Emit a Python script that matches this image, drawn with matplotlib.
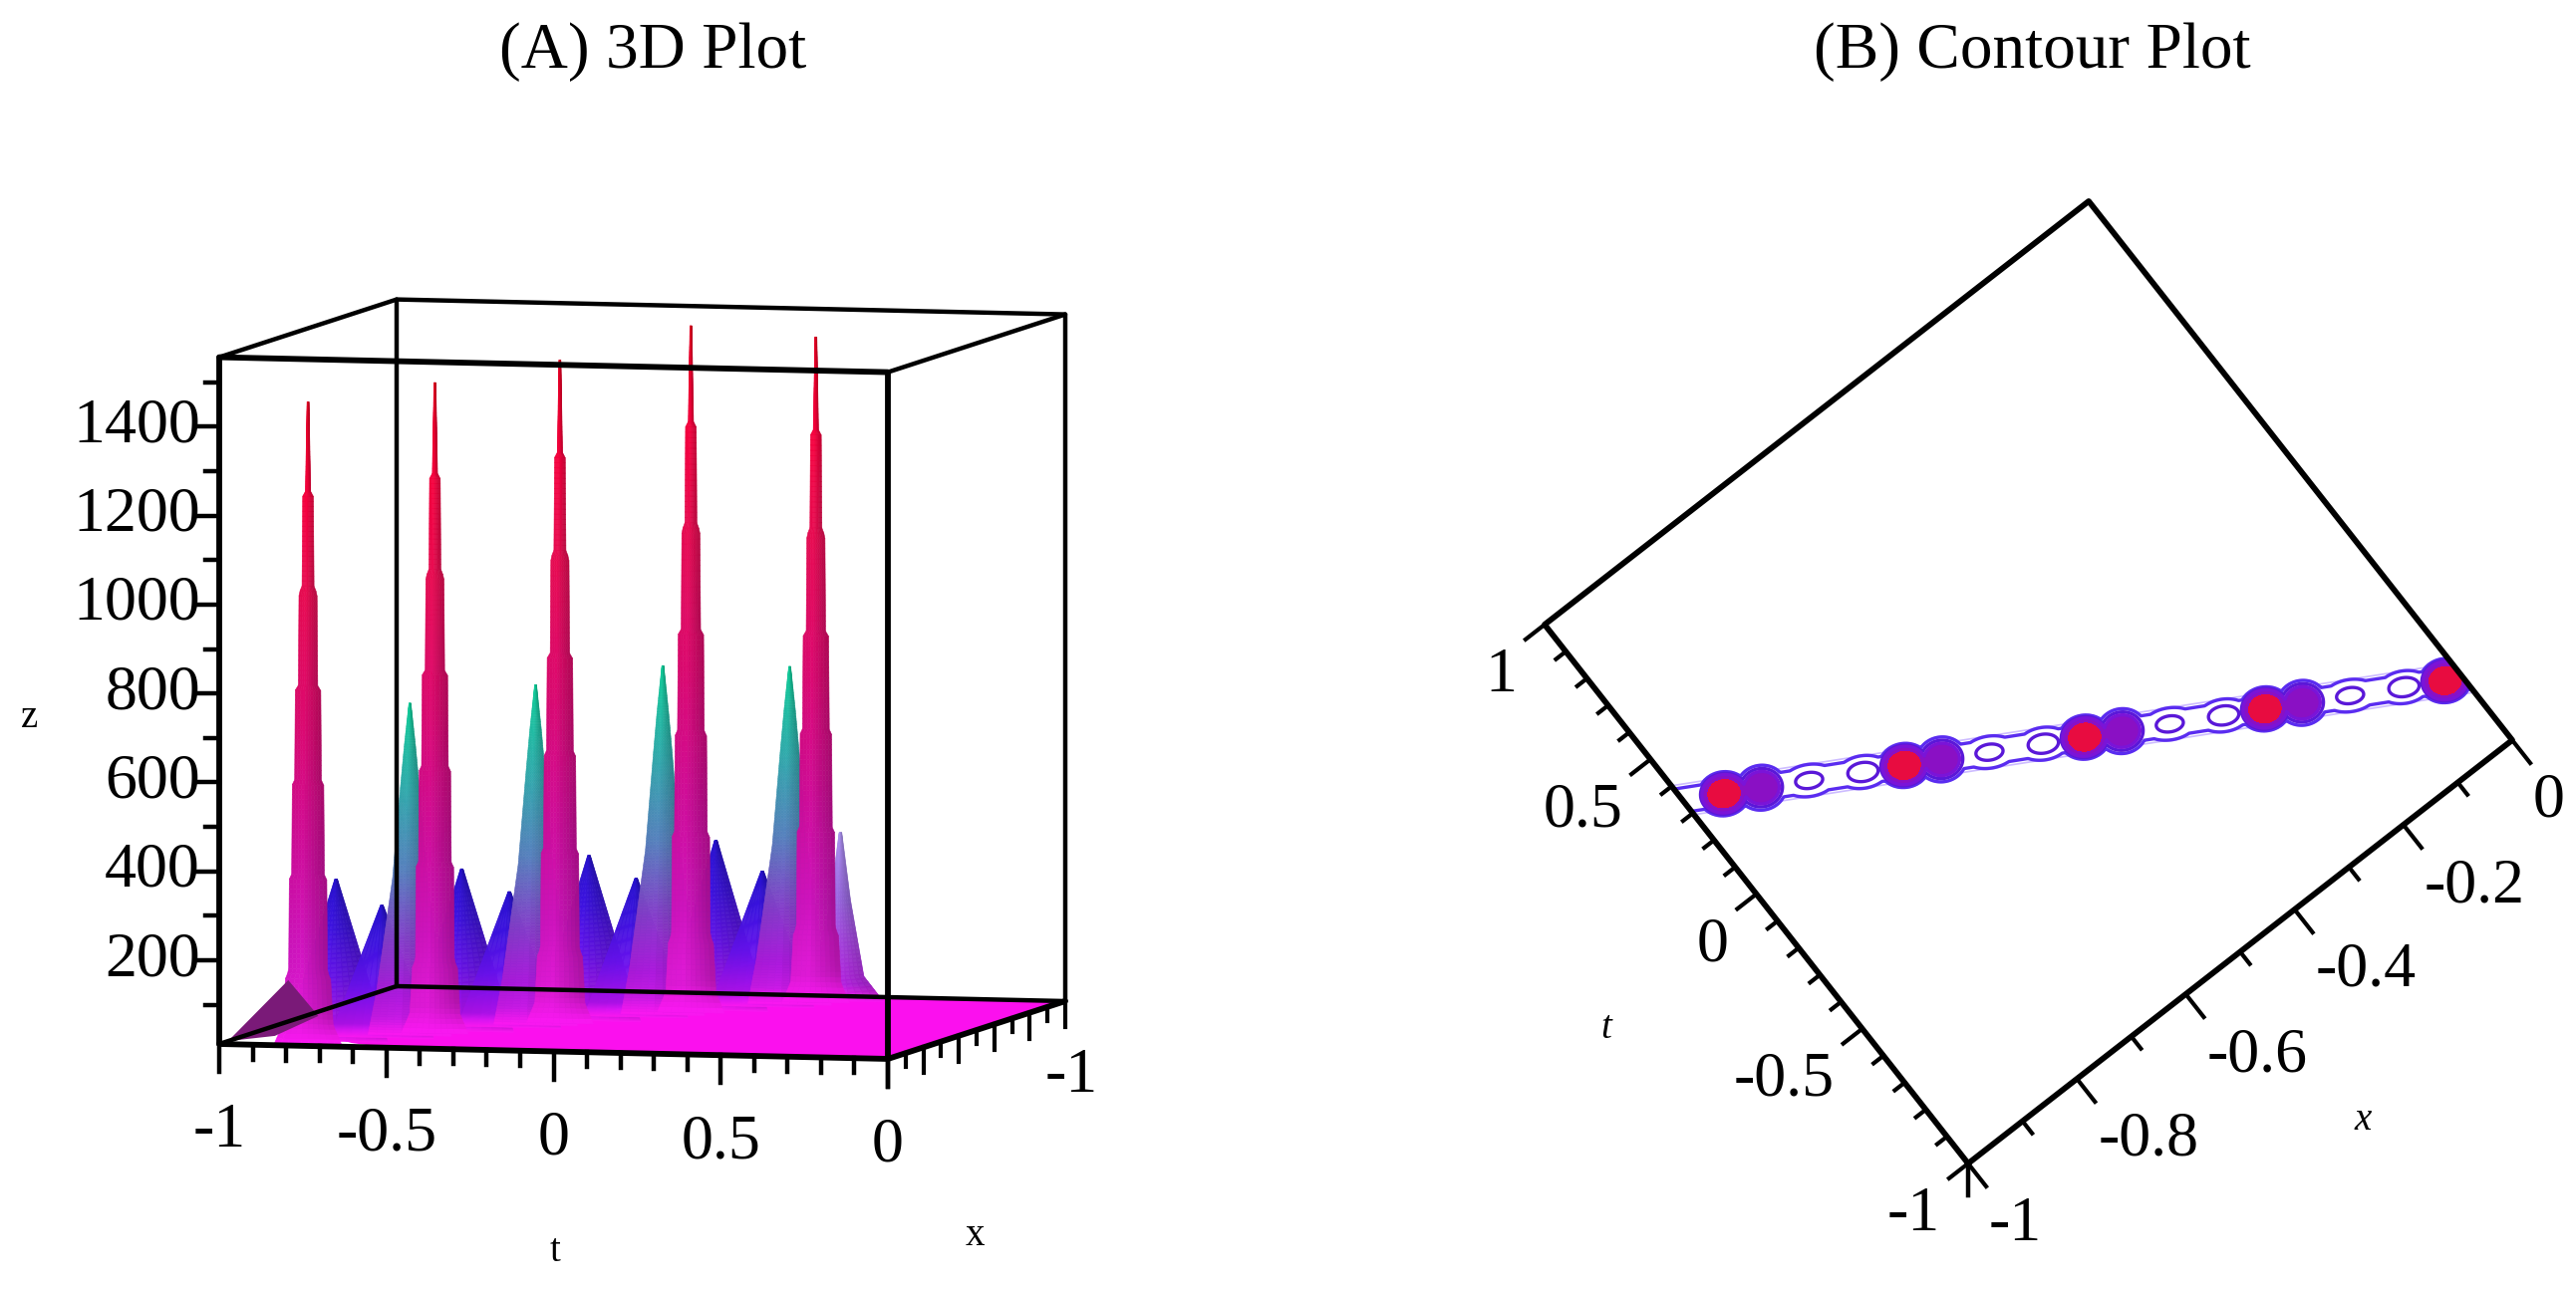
import numpy as np
import matplotlib
matplotlib.use("Agg")
import matplotlib.pyplot as plt
from matplotlib.collections import PolyCollection
from matplotlib.colors import LinearSegmentedColormap
from matplotlib.transforms import Affine2D

plt.rcParams['font.family'] = ['Liberation Serif', 'DejaVu Serif']

# ---- values: peak positions (t, x) and heights ----
red_t = [-0.754, -0.4875, -0.225, 0.05, 0.3125]
red_x = [-0.037, -0.25, -0.46, -0.68, -0.89]
red_z = [1455, 1475, 1503, 1556, 1508]

teal_t = [-0.54, -0.276, -0.009, 0.2575]
teal_x = [-0.208, -0.419, -0.633, -0.846]
teal_z = [759, 777, 797, 772]

blue_t = [-0.695, -0.599, -0.431, -0.331, -0.164, -0.065, 0.1025, 0.2]
blue_x = [-0.084, -0.161, -0.295, -0.375, -0.509, -0.588, -0.722, -0.8]
blue_z = [377, 310, 377, 317, 384, 324, 395, 317]

pale_t = [0.37]
pale_x = [-0.92]
pale_z = [391]

# silhouettes: height fraction -> half width in t
red_frac = [0, 0.03, 0.106, 0.11, 0.259, 0.263, 0.405, 0.41, 0.554, 0.558, 0.704, 0.708, 0.853, 0.857, 1]
red_half = [0.10, 0.075, 0.067, 0.058, 0.056, 0.049, 0.047, 0.040, 0.038, 0.029, 0.027, 0.018, 0.016, 0.008, 0.003]
teal_frac = [0, 0.13, 0.47, 0.75, 0.87, 1]
teal_half = [0.125, 0.10, 0.052, 0.028, 0.017, 0.003]
blue_frac = [0, 1]
blue_half = [0.155, 0.004]
pale_frac = [0, 0.15, 0.6, 1]
pale_half = [0.13, 0.07, 0.03, 0.004]

# colours against height fraction
red_stops = [(0, '#f818f0'), (0.04, '#d018c8'), (0.15, '#c012b0'), (0.3, '#c00c90'),
             (0.5, '#cc0868'), (0.7, '#d80a4c'), (0.85, '#e6003a'), (1, '#d80022')]
teal_stops = [(0, '#f818f0'), (0.05, '#b818d4'), (0.12, '#a018cc'), (0.28, '#7c38bc'),
              (0.5, '#5078b0'), (0.75, '#2ca0a0'), (1, '#10c090')]
blue_stops = [(0, '#f818f0'), (0.1, '#a010d8'), (0.4, '#6010dc'), (0.7, '#3810d0'), (1, '#2410c0')]
pale_stops = [(0, '#f818f0'), (0.1, '#b020dc'), (0.6, '#9060d4'), (1, '#a088e0')]
floor_color = '#fb10ee'

# floor outline and dark flank at the first peak
floor_t = [-1, 1, 1, -0.5, -0.638, -0.824, -0.9]
floor_x = [-1, -1, 0, 0, -0.064, -0.212, -0.35]
flank_t = [-1, -0.82, -0.73, -0.86]
flank_x = [-0.05, -0.05, -0.05, -0.05]
flank_z = [12, 152, 73, 26]

# axes A
t_major = [-1, -0.5, 0, 0.5, 1]
t_labels = ['-1', '-0.5', '0', '0.5', '0']
t_minor = [-0.9, -0.8, -0.7, -0.6, -0.4, -0.3, -0.2, -0.1, 0.1, 0.2, 0.3, 0.4, 0.6, 0.7, 0.8, 0.9]
x_major = [-0.2, -0.4, -0.6, -0.8, -1]
x_minor = [-0.1, -0.3, -0.5, -0.7, -0.9]
z_major = [200, 400, 600, 800, 1000, 1200, 1400]
z_minor = [100, 300, 500, 700, 900, 1100, 1300, 1500]
z_low, z_high = 12, 1556

# ---- values: blob centres in (x, t) ----
c_red_x = [-0.947, -0.716, -0.485, -0.254, -0.023]
c_red_t = [0.289, 0.031, -0.227, -0.485, -0.743]
c_purple_x = [-0.899, -0.668, -0.437, -0.206]
c_purple_t = [0.236, -0.022, -0.280, -0.538]
c_p_x = [-0.838, -0.607, -0.376, -0.145]
c_p_t = [0.167, -0.091, -0.349, -0.607]
c_o_x = [-0.769, -0.538, -0.307, -0.076]
c_o_t = [0.090, -0.168, -0.426, -0.684]
blob_r = [0, 0.3, 0.54, 0.75, 0.85, 1, 1.1]
blob_f = [1, 0.87, 0.69, 0.47, 0.31, 0.07, 0]

b_t_major = [-1, -0.5, 0, 0.5, 1]
b_t_labels = ['-1', '-0.5', '0', '0.5', '1']
b_x_major = [-1, -0.8, -0.6, -0.4, -0.2, 0]
b_x_labels = ['-1', '-0.8', '-0.6', '-0.4', '-0.2', '0']
b_t_minor = [-0.9, -0.8, -0.7, -0.6, -0.4, -0.3, -0.2, -0.1, 0.1, 0.2, 0.3, 0.4, 0.6, 0.7, 0.8, 0.9]
b_x_minor = [-0.9, -0.7, -0.5, -0.3, -0.1]

TICK_FONT = 46


def project(t, x, z):
    # oblique view of the box used in panel A
    u = np.asarray(t, dtype=float) + 1
    d = -np.asarray(x, dtype=float)
    px = 220 + 335.5 * u + 178 * d
    py = 1048 + 7.5 * u - 58 * d - 0.4465 * (np.asarray(z, dtype=float) - z_low)
    return px, py


def box_line(ax, p0, p1, lw):
    xs, ys = project([p0[0], p1[0]], [p0[1], p1[1]], [p0[2], p1[2]])
    ax.plot(xs, ys, color='black', lw=lw, solid_capstyle='round', zorder=20)


def draw_peak(ax, t0, x0, top, frac, half, stops, zorder):
    cmap = LinearSegmentedColormap.from_list('peak', stops)
    levels = np.linspace(0, 1, 130)
    widths = np.interp(levels, frac, half)
    cols = np.linspace(-1, 1, 11)
    shade = np.interp(cols, [-1, -0.4, 0.2, 1], [1.05, 1.08, 0.97, 0.82])
    polys, colors = [], []
    for i in range(len(levels) - 1):
        base = np.array(cmap((levels[i] + levels[i + 1]) / 2))[:3]
        for j in range(len(cols) - 1):
            ts = t0 + np.array([cols[j] * widths[i], cols[j + 1] * widths[i],
                                cols[j + 1] * widths[i + 1], cols[j] * widths[i + 1]])
            zs = z_low + (top - z_low) * np.array([levels[i], levels[i], levels[i + 1], levels[i + 1]])
            px, py = project(ts, x0, zs)
            polys.append(np.column_stack([px, py]))
            # the base melts into the floor, so it is not shaded
            k = shade[j] + (1 - shade[j]) * max(0, 1 - levels[i] / 0.05)
            colors.append(np.clip(base * k, 0, 1))
    ax.add_collection(PolyCollection(polys, facecolors=colors, edgecolors=colors,
                                     linewidths=0.4, zorder=zorder))


def draw_panel_a(ax):
    fx, fy = project(floor_t, floor_x, np.full(len(floor_t), z_low))
    ax.fill(fx, fy, color=floor_color, lw=0, zorder=1)

    for t0, x0, top in zip(pale_t, pale_x, pale_z):
        draw_peak(ax, t0, x0, top, pale_frac, pale_half, pale_stops, 2)
    for t0, x0, top in zip(blue_t, blue_x, blue_z):
        draw_peak(ax, t0, x0, top, blue_frac, blue_half, blue_stops, 3)
    for t0, x0, top in zip(teal_t, teal_x, teal_z):
        draw_peak(ax, t0, x0, top, teal_frac, teal_half, teal_stops, 4)
    for t0, x0, top in zip(red_t, red_x, red_z):
        draw_peak(ax, t0, x0, top, red_frac, red_half, red_stops, 5)

    fx, fy = project(flank_t, flank_x, flank_z)
    ax.fill(fx, fy, color='#7a1a78', lw=0, zorder=6)

    # box, back edges thinner than the front ones
    lo, hi = z_low, z_high
    for p0, p1 in [((-1, -1, lo), (1, -1, lo)), ((-1, -1, lo), (-1, -1, hi)), ((-1, -1, hi), (1, -1, hi)),
                   ((1, -1, lo), (1, -1, hi)), ((-1, 0, hi), (-1, -1, hi)), ((1, 0, hi), (1, -1, hi)),
                   ((-1, 0, lo), (-1, -1, lo))]:
        box_line(ax, p0, p1, 3.2)
    for p0, p1 in [((-1, 0, lo), (1, 0, lo)), ((-1, 0, hi), (1, 0, hi)), ((-1, 0, lo), (-1, 0, hi)),
                   ((1, 0, lo), (1, 0, hi)), ((1, 0, lo), (1, -1, lo))]:
        box_line(ax, p0, p1, 4.2)

    # ticks
    for t0, label in zip(t_major, t_labels):
        px, py = project(t0, 0, lo)
        ax.plot([px, px], [py, py + 28], color='black', lw=3.2, zorder=20)
        ax.text(px, py + 88, label, ha='center', va='center', fontsize=TICK_FONT)
    for t0 in t_minor:
        px, py = project(t0, 0, lo)
        ax.plot([px, px], [py, py + 15], color='black', lw=3.2, zorder=20)
    for x0 in x_major:
        px, py = project(1, x0, lo)
        ax.plot([px, px], [py, py + 26], color='black', lw=3, zorder=20)
    for x0 in x_minor:
        px, py = project(1, x0, lo)
        ax.plot([px, px], [py, py + 14], color='black', lw=3, zorder=20)
    px, py = project(1, 0, lo)
    ax.plot([px, px], [py, py + 28], color='black', lw=3.2, zorder=20)
    px, py = project(1, -1, lo)
    ax.text(px + 6, py + 76, '-1', ha='center', va='center', fontsize=TICK_FONT)
    for z0 in z_major:
        px, py = project(-1, 0, z0)
        ax.plot([px - 24, px], [py, py], color='black', lw=3.2, zorder=20)
        ax.text(px - 19, py, str(z0), ha='right', va='center', fontsize=TICK_FONT)
    for z0 in z_minor:
        px, py = project(-1, 0, z0)
        ax.plot([px - 14, px], [py, py], color='black', lw=3.2, zorder=20)

    ax.text(30, 720, 'z', ha='center', va='center', fontsize=28)
    ax.text(557, 1257, 't', ha='center', va='center', fontsize=28)
    ax.text(978, 1240, 'x', ha='center', va='center', fontsize=28)
    ax.text(655, 52, '(A) 3D Plot', ha='center', va='center', fontsize=47)


def blob_field(X, T, cx, ct, height, radius, stretch, slope):
    # X, T/2 are box fractions, the blobs stretch along the band
    norm = np.hypot(1, slope)
    field = np.zeros_like(X)
    for x0, t0 in zip(cx, ct):
        dx, dt = X - x0, (T - t0) / 2
        along = (dx + slope * dt) / norm
        across = (dt - slope * dx) / norm
        r = np.hypot(along / stretch, across) / radius
        field = np.maximum(field, height * np.interp(r, blob_r, blob_f))
    return field


def draw_panel_b(ax):
    # (x, t) -> figure pixels
    xt = Affine2D.from_values(546, -425, -212.5, -270.5, 1975 + 546 - 212.5, 1168 - 425 - 270.5)
    trans = xt + ax.transData

    xs = np.linspace(-1, 0, 1400)
    ts = np.linspace(-1, 1, 1400)
    X, T = np.meshgrid(xs, ts)
    slope = (c_red_t[-1] - c_red_t[0]) / (c_red_x[-1] - c_red_x[0]) / 2
    Z = blob_field(X, T, c_red_x, c_red_t, 1450, 0.032, 1.15, slope)
    Z = np.maximum(Z, blob_field(X, T, c_purple_x, c_purple_t, 760, 0.034, 1.1, slope))
    Z = np.maximum(Z, blob_field(X, T, c_p_x, c_p_t, 350, 0.027, 1.7, slope))
    Z = np.maximum(Z, blob_field(X, T, c_o_x, c_o_t, 380, 0.027, 1.6, slope))
    # the low ridge that joins the blobs into one band
    w = np.abs((T - c_red_t[0]) / 2 - slope * (X - c_red_x[0])) / np.hypot(slope, 1)
    Z = np.maximum(Z, 200 * np.clip(1 - w / 0.036, 0, 1))

    ax.contourf(X, T, Z, levels=[400, 850, 2000], colors=['#8a10c4', '#e80c40'],
                transform=trans, zorder=3)
    ax.contour(X, T, Z, levels=[70], colors=['#cdbcff'], linewidths=1.2, transform=trans, zorder=3)
    ax.contour(X, T, Z, levels=[100, 270, 400], colors=['#5a2cf0', '#5a18d8', '#7a14d8'],
               linewidths=2.4, transform=trans, zorder=4)

    def pt(x0, t0):
        return xt.transform((x0, t0))

    corners = [pt(-1, -1), pt(-1, 1), pt(0, 1), pt(0, -1), pt(-1, -1)]
    ax.plot([c[0] for c in corners], [c[1] for c in corners], color='black', lw=4.2, zorder=10)

    # t ticks lean along -x, x ticks lean along -t
    for t0, label in zip(b_t_major, b_t_labels):
        px, py = pt(-1, t0)
        end = pt(-1.035, t0)
        ax.plot([px, end[0]], [py, end[1]], color='black', lw=3, zorder=10)
        ax.text(px - 28, py + 52, label, ha='right', va='center', fontsize=TICK_FONT)
    for t0 in b_t_minor:
        end = pt(-1.018, t0)
        px, py = pt(-1, t0)
        ax.plot([px, end[0]], [py, end[1]], color='black', lw=3, zorder=10)
    for x0, label in zip(b_x_major, b_x_labels):
        px, py = pt(x0, -1)
        end = pt(x0, -1.085)
        ax.plot([px, end[0]], [py, end[1]], color='black', lw=3, zorder=10)
        ax.text(px + 21, py + 62, label, ha='left', va='center', fontsize=TICK_FONT)
    for x0 in b_x_minor:
        px, py = pt(x0, -1)
        end = pt(x0, -1.045)
        ax.plot([px, end[0]], [py, end[1]], color='black', lw=3, zorder=10)
    px, py = pt(-1, -1)
    ax.plot([px, px], [py, py + 32], color='black', lw=3.2, zorder=10)

    ax.text(1612, 1032, 't', ha='center', va='center', fontsize=28, style='italic')
    ax.text(2371, 1124, 'x', ha='center', va='center', fontsize=28, style='italic')
    ax.text(2039, 52, '(B) Contour Plot', ha='center', va='center', fontsize=47)


def main():
    fig = plt.figure(figsize=(25.85, 12.95), dpi=100)
    ax = fig.add_axes([0, 0, 1, 1])
    ax.set_xlim(0, 2585)
    ax.set_ylim(1295, 0)
    ax.axis('off')
    draw_panel_a(ax)
    draw_panel_b(ax)
    fig.savefig('out.png', dpi=100)


if __name__ == "__main__":
    main()
